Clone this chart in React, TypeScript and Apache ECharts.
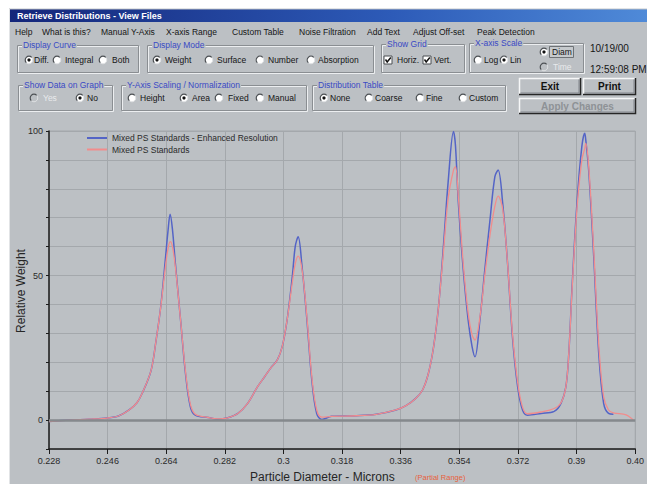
import React, { useEffect, useRef } from "react";
import * as echarts from "echarts";

// ---------- data ----------
const diameters = [
  0.2280, 0.2344, 0.2404, 0.2459, 0.2495, 0.2526, 0.2550, 0.2565, 0.2593, 0.2608,
  0.2623, 0.2638, 0.2645, 0.2652, 0.2659, 0.2668, 0.2684, 0.2699, 0.2714, 0.2729,
  0.2769, 0.2799, 0.2829, 0.2860, 0.2890, 0.2920, 0.2942, 0.2960, 0.2981, 0.2996,
  0.3011, 0.3027, 0.3036, 0.3045, 0.3057, 0.3072, 0.3087, 0.3102, 0.3118, 0.3148,
  0.3224, 0.3285, 0.3345, 0.3376, 0.3406, 0.3427, 0.3445, 0.3461, 0.3476, 0.3491,
  0.3506, 0.3522, 0.3528, 0.3537, 0.3552, 0.3567, 0.3579, 0.3588, 0.3603, 0.3618,
  0.3634, 0.3649, 0.3659, 0.3673, 0.3688, 0.3703, 0.3719, 0.3734, 0.3749, 0.3791,
  0.3831, 0.3852, 0.3867, 0.3876, 0.3886, 0.3901, 0.3916, 0.3925, 0.3928, 0.3937,
  0.3952, 0.3968, 0.3983, 0.3998, 0.4013, 0.4052, 0.4074,
];
const enhanced: (number | null)[] = [
  -0.5, 0, 0.3, 0.7, 1.5, 3.5, 6, 9, 17, 27,
  39.2, 56.5, 65, 71.2, 66, 54.2, 34.6, 16.2, 4.6, 1.7,
  0.9, 0.3, 0.8, 2.3, 5.8, 11.5, 15, 17.9, 20.8, 25.4,
  34.6, 49.6, 60, 63.4, 53, 34.6, 13.8, 2.3, 0.2, 1.3,
  1.5, 2, 3.5, 5, 7.5, 10.4, 16.2, 25.4, 39.2, 60,
  83, 99.8, 95, 75, 51.9, 34.6, 25.4, 21.9, 34.6, 51.9,
  69.2, 84.2, 86.5, 75, 54.2, 28.8, 11.5, 3.5, 1.7, 2.3,
  3, 5.8, 11.5, 23, 46, 75, 94.6, 99.2, 97, 86.5,
  57.7, 23, 5.8, 2.3, 2, null, null,
];
const standard: (number | null)[] = [
  -0.5, 0, 0.3, 0.7, 1.5, 3.5, 6, 9, 17, 27,
  39, 53.5, 59, 61.7, 60, 53, 34.6, 17, 5.5, 2,
  0.9, 0.4, 0.8, 2.3, 5.8, 11.5, 15, 17.9, 20.8, 25.4,
  34.6, 47.5, 54, 56.7, 52, 35.5, 15, 3.5, 1, 1.3,
  1.5, 2, 3.5, 5, 7.5, 10.4, 16.2, 25.4, 39.2, 58,
  77, 86.5, 87.7, 77, 54, 37, 29.5, 27.7, 35.5, 50,
  64, 74, 77.5, 73, 54.2, 30, 13, 4.5, 2.2, 2.8,
  4, 6, 11.5, 23, 45, 73, 90, 94, 95.7, 88,
  60, 26, 8, 3.5, 2.5, 1.8, 0,
];
const xTickLabels = ["0.228", "0.246", "0.264", "0.282", "0.3", "0.318", "0.336", "0.354", "0.372", "0.39", "0.40"];
const yLabelValues = [0, 50, 100];
const seriesNames = ["Mixed PS Standards - Enhanced Resolution", "Mixed PS Standards"];
const xAxisTitle = "Particle Diameter - Microns";
const xAxisNote = "(Partial Range)";
const yAxisTitle = "Relative Weight";
const windowTitle = "Retrieve Distributions - View Files";
const menuItems = ["Help", "What is this?", "Manual Y-Axis", "X-axis Range", "Custom Table", "Noise Filtration", "Add Text", "Adjust Off-set", "Peak Detection"];
const dateText = "10/19/00";
const timeText = "12:59:08 PM";

// ---------- layout / style ----------
const BG = "#bcc0c4";
const FONT = "'Liberation Sans', Arial, sans-serif";
const UI_SIZE = 8.5;
const menuX = [15, 42, 101, 166, 232, 299, 367, 413, 477];

function txt(x: number, y: number, text: string, o: any = {}) {
  return {
    type: "text",
    x,
    y,
    z: 3,
    rotation: o.rotation || 0,
    style: {
      text,
      fill: o.fill || "#151515",
      fontSize: o.size || UI_SIZE,
      fontFamily: FONT,
      fontWeight: o.weight || "normal",
      verticalAlign: "middle",
      align: o.align || "left",
      ...(o.extra || {}),
    },
  };
}

function groupBox(x1: number, y1: number, x2: number, y2: number, title: string) {
  return [
    { type: "rect", z: 1, shape: { x: x1 + 1.5, y: y1 + 1.5, width: x2 - x1, height: y2 - y1 }, style: { fill: "none", stroke: "#eceef0", lineWidth: 1 } },
    { type: "rect", z: 1, shape: { x: x1 + 0.5, y: y1 + 0.5, width: x2 - x1, height: y2 - y1 }, style: { fill: "none", stroke: "#8a8e92", lineWidth: 1 } },
    txt(x1 + 5, y1, title, { fill: "#3a4ac4", extra: { backgroundColor: BG, padding: [0, 1, 0, 1] } }),
  ];
}

function radio(cx: number, cy: number, label: string, tx: number, sel = false, dis = false) {
  const els: any[] = [
    { type: "circle", z: 1, shape: { cx, cy, r: 3.8 }, style: { fill: dis ? BG : "#ffffff", stroke: "#dfe1e3", lineWidth: 1 } },
    { type: "arc", z: 2, shape: { cx, cy, r: 3.8, startAngle: Math.PI * 0.75, endAngle: Math.PI * 1.75, clockwise: true }, style: { fill: "none", stroke: "#4a4e52", lineWidth: 1.2 } },
  ];
  if (sel) els.push({ type: "circle", z: 2, shape: { cx, cy, r: 1.6 }, style: { fill: "#111111" } });
  els.push(
    txt(tx, cy, label, dis ? { fill: "#e8eaec", extra: { textShadowColor: "#8e9296", textShadowOffsetX: -1, textShadowOffsetY: -1 } } : {})
  );
  return els;
}

function checkbox(cx: number, cy: number, label: string, tx: number) {
  return [
    { type: "rect", z: 1, shape: { x: cx - 4, y: cy - 4, width: 8, height: 8 }, style: { fill: "#ffffff", stroke: "#4a4e52", lineWidth: 1 } },
    { type: "polyline", z: 2, shape: { points: [[cx - 2.5, cy - 0.5], [cx - 0.8, cy + 2], [cx + 2.8, cy - 2.5]] }, style: { fill: "none", stroke: "#111111", lineWidth: 1.5 } },
    txt(tx, cy, label),
  ];
}

function button(x1: number, y1: number, x2: number, y2: number, label: string, dis = false) {
  return [
    { type: "rect", z: 1, shape: { x: x1, y: y1, width: x2 - x1, height: y2 - y1 }, style: { fill: BG } },
    { type: "polyline", z: 2, shape: { points: [[x1 + 0.5, y2], [x1 + 0.5, y1 + 0.5], [x2, y1 + 0.5]] }, style: { fill: "none", stroke: "#f6f7f8", lineWidth: 1.5 } },
    { type: "polyline", z: 2, shape: { points: [[x1, y2 - 0.5], [x2 - 0.5, y2 - 0.5], [x2 - 0.5, y1]] }, style: { fill: "none", stroke: "#262626", lineWidth: 1.5 } },
    { type: "polyline", z: 2, shape: { points: [[x1 + 1.5, y2 - 2], [x2 - 2, y2 - 2], [x2 - 2, y1 + 1.5]] }, style: { fill: "none", stroke: "#80848a", lineWidth: 1 } },
    txt((x1 + x2) / 2, (y1 + y2) / 2, label, {
      align: "center",
      size: 10,
      weight: "bold",
      fill: dis ? "#8e9296" : "#111111",
      extra: dis ? { textShadowColor: "#eef0f2", textShadowOffsetX: 1, textShadowOffsetY: 1 } : {},
    }),
  ];
}

function buildGraphics() {
  const g: any[] = [];
  // page margin (white) around the window
  g.push({ type: "rect", z: 5, shape: { x: 0, y: 0, width: 647, height: 8 }, style: { fill: "#ffffff" } });
  g.push({ type: "rect", z: 5, shape: { x: 0, y: 0, width: 9, height: 484 }, style: { fill: "#ffffff" } });
  g.push({ type: "polyline", z: 5, shape: { points: [[9.5, 484], [9.5, 8.5], [647, 8.5]] }, style: { fill: "none", stroke: "#e2e4e6", lineWidth: 1 } });
  // title bar
  g.push({
    type: "rect",
    z: 1,
    shape: { x: 10, y: 9.5, width: 637, height: 12.5 },
    style: {
      fill: new echarts.graphic.LinearGradient(0, 0, 1, 0, [
        { offset: 0, color: "#14267a" },
        { offset: 0.6, color: "#2d5bb8" },
        { offset: 1, color: "#4f8ad8" },
      ]),
    },
  });
  g.push(txt(17, 15.8, windowTitle, { fill: "#ffffff", weight: "bold", size: 9 }));
  // menu
  menuItems.forEach((m, i) => g.push(txt(menuX[i], 32, m)));

  // row 1
  g.push(...groupBox(17, 45, 138, 72, "Display Curve"));
  g.push(...radio(29, 60, "Diff.", 34, true));
  g.push(...radio(57, 60, "Integral", 65));
  g.push(...radio(103, 60, "Both", 112));

  g.push(...groupBox(147, 45, 373, 72, "Display Mode"));
  g.push(...radio(157, 60, "Weight", 165, true));
  g.push(...radio(209, 60, "Surface", 217));
  g.push(...radio(260, 60, "Number", 268));
  g.push(...radio(311, 60, "Absorption", 318));

  g.push(...groupBox(381, 44, 464, 72, "Show Grid"));
  g.push(...checkbox(388, 60, "Horiz.", 397));
  g.push(...checkbox(427, 60, "Vert.", 434));

  g.push(...groupBox(469, 43, 583, 72, "X-axis Scale"));
  g.push(...radio(478, 60, "Log", 484));
  g.push(...radio(504, 60, "Lin", 510, true));
  g.push({ type: "rect", z: 1, shape: { x: 549.5, y: 46.5, width: 24, height: 11 }, style: { fill: "#c6cacd", stroke: "#6e7276", lineWidth: 1 } });
  g.push(...radio(544, 52, "Diam", 552, true));
  g.push(...radio(544, 67, "Time", 553, false, true));

  g.push(txt(590, 48, dateText, { size: 10 }));
  g.push(txt(590, 69, timeText, { size: 10 }));

  // row 2
  g.push(...groupBox(18, 85, 112, 110, "Show Data on Graph"));
  g.push(...radio(34, 98, "Yes", 43, false, true));
  g.push(...radio(80, 98, "No", 87, true));

  g.push(...groupBox(121, 85, 306, 110, "Y-Axis Scaling / Normalization"));
  g.push(...radio(132, 98, "Height", 140));
  g.push(...radio(184, 98, "Area", 192, true));
  g.push(...radio(219, 98, "Fixed", 228));
  g.push(...radio(260, 98, "Manual", 268));

  g.push(...groupBox(312, 85, 505, 110, "Distribution Table"));
  g.push(...radio(324, 98, "None", 330, true));
  g.push(...radio(369, 98, "Coarse", 375));
  g.push(...radio(420, 98, "Fine", 426));
  g.push(...radio(463, 98, "Custom", 469));

  g.push(...button(519, 78, 581, 95, "Exit"));
  g.push(...button(583, 78, 636, 95, "Print"));
  g.push(...button(519, 98, 636, 114, "Apply Changes", true));

  // axis titles
  g.push(txt(250, 477, xAxisTitle, { size: 12, fill: "#262626" }));
  g.push(txt(415, 477.5, xAxisNote, { size: 7.5, fill: "#e8603c" }));
  g.push(txt(21, 291, yAxisTitle, { size: 12, fill: "#262626", align: "center", rotation: Math.PI / 2 }));
  return g;
}

function pairs(ys: (number | null)[]) {
  const out: number[][] = [];
  ys.forEach((v, i) => {
    if (v !== null) out.push([diameters[i], v]);
  });
  return out;
}

export default function App() {
  const ref = useRef<HTMLDivElement>(null);
  useEffect(() => {
    document.body.style.margin = "0";
    if (!ref.current) return;
    const chart = echarts.init(ref.current, undefined, { renderer: "svg" });
    const axisColor = "#1c1c1c";
    const option: any = {
      animation: false,
      backgroundColor: BG,
      textStyle: { fontFamily: FONT },
      grid: {
        left: 49,
        top: 131,
        right: 6,
        bottom: 35,
        show: true,
        borderColor: "#a4a8ac",
        borderWidth: 1,
        backgroundColor: "transparent",
        containLabel: false,
      },
      legend: {
        data: seriesNames,
        orient: "vertical",
        left: 87,
        top: 133,
        itemWidth: 20,
        itemHeight: 2,
        itemGap: 1.5,
        icon: "rect",
        selectedMode: false,
        padding: 0,
        textStyle: { fontSize: 8.5, color: "#2a2a2a", lineHeight: 10, fontFamily: FONT },
      },
      xAxis: {
        type: "value",
        min: 0.228,
        max: 0.408,
        interval: 0.018,
        axisLine: { onZero: false, lineStyle: { color: axisColor, width: 1.5 } },
        axisTick: { show: true, length: 5, lineStyle: { color: axisColor, width: 1 } },
        axisLabel: {
          fontSize: 9,
          color: "#2a2a2a",
          margin: 7,
          fontFamily: FONT,
          formatter: (v: number) => {
            const i = Math.round((v - 0.228) / 0.018);
            return xTickLabels[i] ?? "";
          },
        },
        splitLine: { show: true, lineStyle: { color: "#a4a8ac", width: 1 } },
      },
      yAxis: {
        type: "value",
        min: -10,
        max: 100,
        interval: 10,
        axisLine: { show: true, onZero: false, lineStyle: { color: axisColor, width: 1.5 } },
        axisTick: { show: true, length: 3, lineStyle: { color: axisColor, width: 1 } },
        axisLabel: {
          fontSize: 9,
          color: "#2a2a2a",
          margin: 6,
          fontFamily: FONT,
          formatter: (v: number) => (yLabelValues.includes(Math.round(v)) ? String(Math.round(v)) : ""),
        },
        splitLine: { show: true, lineStyle: { color: "#a4a8ac", width: 1 } },
      },
      series: [
        {
          name: "zero",
          type: "line",
          data: [],
          z: 1,
          silent: true,
          markLine: {
            silent: true,
            symbol: "none",
            label: { show: false },
            lineStyle: { color: "#85898d", width: 2.5, type: "solid" },
            data: [{ yAxis: 0 }],
          },
        },
        {
          name: seriesNames[0],
          type: "line",
          data: pairs(enhanced),
          showSymbol: false,
          symbol: "none",
          smooth: 0.35,
          lineStyle: { color: "#5464c6", width: 1.5 },
          itemStyle: { color: "#5464c6" },
          z: 2,
        },
        {
          name: seriesNames[1],
          type: "line",
          data: pairs(standard),
          showSymbol: false,
          symbol: "none",
          smooth: 0.35,
          lineStyle: { color: "#f28c8c", width: 1.3 },
          itemStyle: { color: "#f28c8c" },
          z: 3,
        },
      ],
      graphic: { elements: buildGraphics() },
    };
    chart.setOption(option);
    return () => chart.dispose();
  }, []);
  return <div ref={ref} style={{ width: 647, height: 484 }} />;
}
